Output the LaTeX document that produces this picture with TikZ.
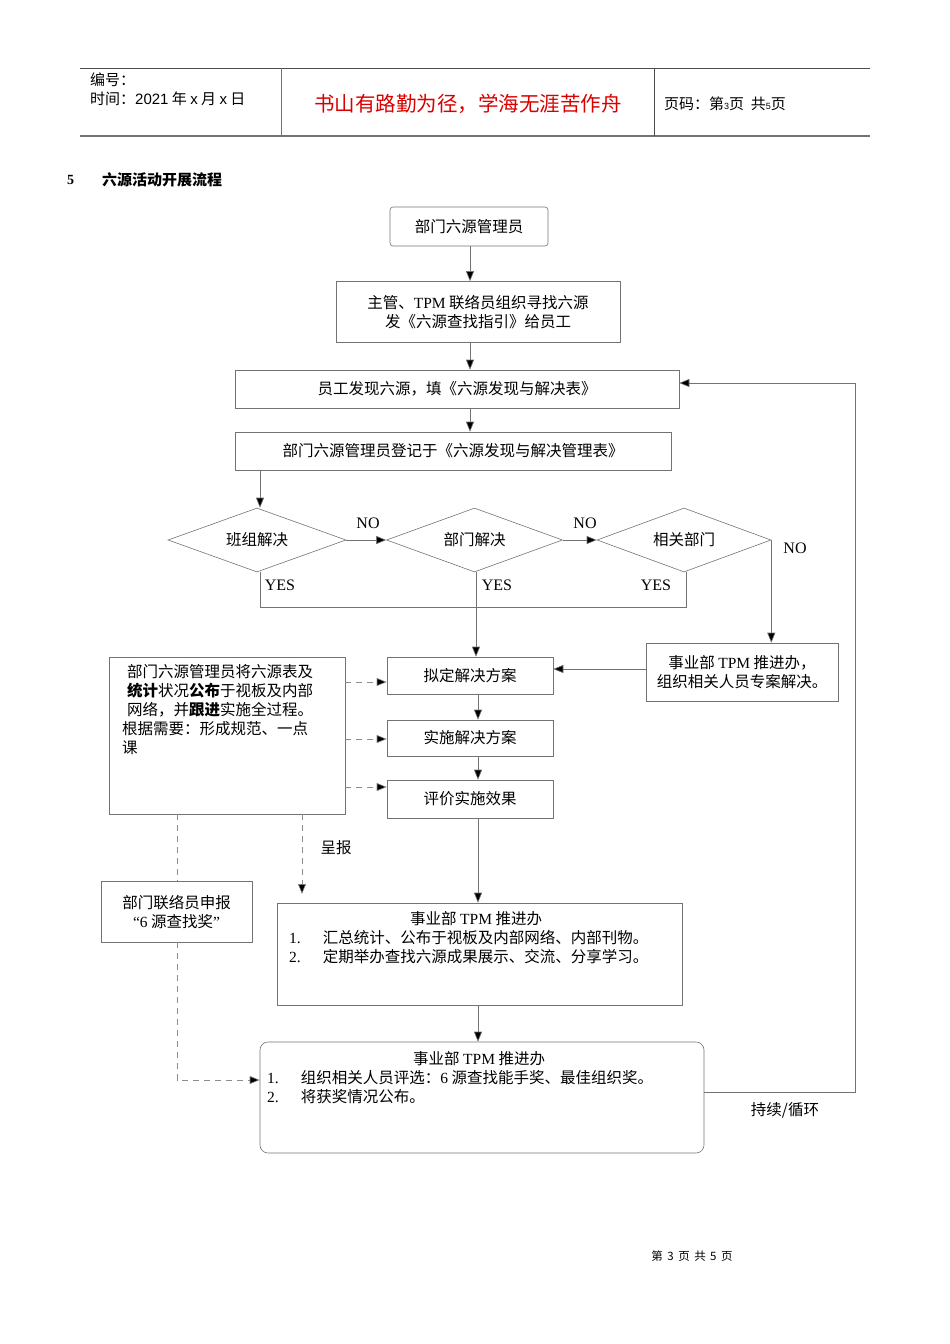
\documentclass[tikz,border=0pt]{standalone}
\usepackage{fontspec}
\setmainfont{Liberation Serif}
\newfontfamily\cjk{Noto Sans CJK SC}
\newfontfamily\hsans{Liberation Sans}
\newcommand{\lt}[1]{{\rmfamily #1}}
\usetikzlibrary{arrows.meta,shapes.geometric}
\begin{document}
\begin{tikzpicture}[x=1pt,y=-1pt,
  bx/.style={draw=black!55,line width=0.6pt},
  ln/.style={draw=black!55,line width=0.6pt},
  ar/.style={draw=black!55,line width=0.6pt,-{Triangle[length=10pt,width=8pt,fill=black]}},
  da/.style={draw=black!45,line width=0.6pt,dash pattern=on 6pt off 5pt},
  dar/.style={da,-{Triangle[length=10pt,width=8pt,fill=black]}},
  tx/.style={font=\fontsize{15.5}{19}\selectfont\cjk,inner sep=0pt},
  lx/.style={font=\fontsize{16}{18}\selectfont\rmfamily,inner sep=0pt}]
\useasboundingbox (0,0) rectangle (950,1344);
% header
\draw[black!70,line width=1pt] (80,68) -- (870,68);
\draw[black!55,line width=1.5pt] (80,136) -- (870,136);
\draw[black!55] (281,68) -- (281,136);
\draw[black!70] (654,68) -- (654,136);
\node[tx,anchor=west,font=\fontsize{15}{17}\selectfont\cjk] (h1) at (90,80) {编号：};
\node[tx,anchor=west,font=\fontsize{15}{17}\selectfont\cjk] (h2) at (90,99) {时间：{\hsans 2021} 年 {\hsans x} 月 {\hsans x} 日};
\node[tx,anchor=center,text=red!85!black,font=\fontsize{20.5}{22}\selectfont\cjk] (h3) at (468,104) {书山有路勤为径，学海无涯苦作舟};
\node[tx,anchor=west,font=\fontsize{15}{17}\selectfont\cjk] (h4) at (664,104) {页码：第{\hsans\small 3}页 \ 共{\hsans\small 5}页};
\node[anchor=west,font=\bfseries\fontsize{14}{17}\selectfont,inner sep=0pt] (s5) at (67,180) {5};
\node[tx,anchor=west,font=\bfseries\fontsize{15}{17}\selectfont\cjk] (st) at (102,180) {六源活动开展流程};
% boxes
\node[bx,rounded corners=3pt,minimum width=158pt,minimum height=39pt,tx] (A) at (469,226.5) {部门六源管理员};
\node[bx,minimum width=284pt,minimum height=61pt,tx,align=center] (B) at (478,312) {主管、\lt{TPM} 联络员组织寻找六源\\发《六源查找指引》给员工};
\node[bx,minimum width=444pt,minimum height=38pt,tx] (C) at (457,389) {员工发现六源，填《六源发现与解决表》};
\node[bx,minimum width=436pt,minimum height=38pt,tx] (D) at (453,451) {部门六源管理员登记于《六源发现与解决管理表》};
\node[bx,diamond,aspect=2.75,minimum width=178pt,minimum height=64pt,tx] (D1) at (257,540) {班组解决};
\node[bx,diamond,aspect=2.75,minimum width=176pt,minimum height=64pt,tx] (D2) at (474.5,540) {部门解决};
\node[bx,diamond,aspect=2.75,minimum width=174pt,minimum height=64pt,tx] (D3) at (684,540) {相关部门};
\node[bx,minimum width=192pt,minimum height=58pt,tx,align=center] (E) at (742,672) {事业部 \lt{TPM} 推进办，\\组织相关人员专案解决。};
\node[bx,minimum width=166pt,minimum height=37pt,tx] (F) at (470,675.5) {拟定解决方案};
\node[bx,minimum width=166pt,minimum height=36pt,tx] (G) at (470,738) {实施解决方案};
\node[bx,minimum width=166pt,minimum height=38pt,tx] (H) at (470,799) {评价实施效果};
\node[bx,minimum width=236pt,minimum height=157pt] (L) at (227,735.5) {};
\node[tx,anchor=north west,align=left] (Lt) at (122,664) {\hspace{5pt}部门六源管理员将六源表及\\\hspace{5pt}{\bfseries 统计}状况{\bfseries 公布}于视板及内部\\\hspace{5pt}网络，并{\bfseries 跟进}实施全过程。\\根据需要：形成规范、一点\\课};
\node[bx,minimum width=151pt,minimum height=61pt,tx,align=center] (M) at (176.5,911.5) {部门联络员申报\\\lt{“6} 源查找奖\lt{”}};
\node[bx,minimum width=405pt,minimum height=102pt] (N) at (479.5,954) {};
\node[tx,anchor=north west,align=left] (Nt) at (289,911) {\hspace{121pt}事业部 \lt{TPM} 推进办\\\lt{1.}\hspace{22pt}汇总统计、公布于视板及内部网络、内部刊物。\\\lt{2.}\hspace{22pt}定期举办查找六源成果展示、交流、分享学习。};
\node[bx,rounded corners=8pt,minimum width=444pt,minimum height=111pt] (P) at (482,1097.5) {};
\node[tx,anchor=north west,align=left] (Pt) at (267,1051) {\hspace{146pt}事业部 \lt{TPM} 推进办\\\lt{1.}\hspace{22pt}组织相关人员评选：\lt{6} 源查找能手奖、最佳组织奖。\\\lt{2.}\hspace{22pt}将获奖情况公布。};
% labels
\node[lx] (no1) at (368,523) {NO};
\node[lx] (no2) at (585,523) {NO};
\node[lx] (no3) at (795,548) {NO};
\node[lx] (y1) at (280,585) {YES};
\node[lx] (y2) at (497,585) {YES};
\node[lx] (y3) at (656,585) {YES};
\node[tx] (cb) at (336,848) {呈报};
\node[tx] (cx) at (785,1110) {持续/循环};
\node[font=\fontsize{11.5}{13}\selectfont\cjk,inner sep=0pt] (ft) at (692,1256) {第 \,3\, 页 \,共 \,5\, 页};
% connectors
\draw[ar] (A.south -| 470,0) -- (B.north -| 470,0);
\draw[ar] (B.south -| 470,0) -- (C.north -| 470,0);
\draw[ar] (C.south -| 470,0) -- (D.north -| 470,0);
\draw[ar] (D.south -| 260,0) -- (D1.north -| 260,0);
\draw[ar] (D1.east) -- (D2.west);
\draw[ar] (D2.east) -- (D3.west);
\draw[ar] (D3.east) -- (D3.east |- E.north);
\draw[ln] (D1.south -| 260,0) -- (260,607) -- (686,607) -- (D3.south -| 686,0);
\draw[ar] (D2.south -| 476,0) -- (F.north -| 476,0);
\draw[ar] (E.west |- 0,669) -- (F.east |- 0,669);
\draw[ar] (F.south -| 478,0) -- (G.north -| 478,0);
\draw[ar] (G.south -| 478,0) -- (H.north -| 478,0);
\draw[ar] (H.south -| 478,0) -- (N.north -| 478,0);
\draw[ar] (N.south -| 478,0) -- (P.north -| 478,0);
\draw[dar] (L.east |- 0,682) -- (F.west |- 0,682);
\draw[dar] (L.east |- 0,739) -- (G.west |- 0,739);
\draw[dar] (L.east |- 0,787) -- (H.west |- 0,787);
\coordinate (cbend) at (302,894);
\draw[dar] (L.south -| 302,0) -- (cbend);
\draw[da] (L.south -| 177,0) -- (M.north -| 177,0);
\draw[dar] (M.south -| 177,0) -- (177,1080) -- (P.west |- 0,1080);
\draw[ar] (P.east |- 0,1092) -- (855,1092) -- (855,383) -- (C.east |- 0,383);
\end{tikzpicture}
\end{document}
